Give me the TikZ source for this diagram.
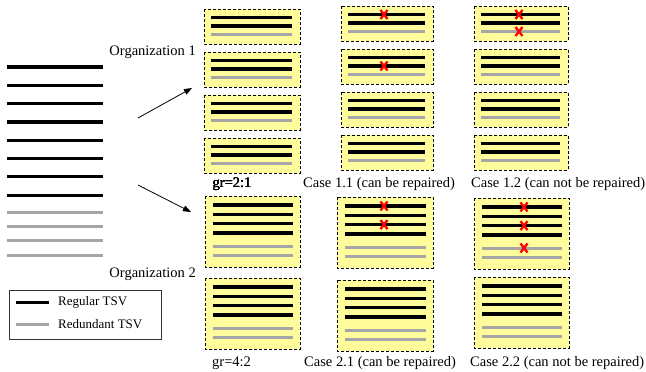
\documentclass[tikz,border=0pt]{standalone}
\usepackage{fontspec}
\setmainfont{Liberation Serif}
\usetikzlibrary{arrows.meta}
\definecolor{boxyellow}{RGB}{255,252,155}
\tikzset{
  regular/.style={line width=3.2pt,black},
  redundant/.style={line width=3pt,gray!70},
  tsvbox/.style={draw,fill=boxyellow,line width=0.8pt,dash pattern=on 3pt off 2pt},
  fault/.style={red,line width=2.3pt},
  lbl/.style={font=\fontsize{14.5}{17}\selectfont,inner sep=0pt},
  legendtext/.style={font=\fontsize{13}{15}\selectfont,inner sep=0pt,anchor=west},
}
% box with 2 regular + 1 redundant TSV
\newcommand{\smallstack}[3]{%
  \begin{scope}[shift={(#1,#2)}]
    \draw[tsvbox] (0,0) rectangle (#3,35);
    \draw[regular] (7,8.5) -- (#3-8,8.5);
    \draw[regular] (7,17) -- (#3-8,17);
    \draw[redundant] (7,25.5) -- (#3-8,25.5);
  \end{scope}}
% box with 4 regular + 2 redundant TSVs
\newcommand{\bigstack}[3]{%
  \begin{scope}[shift={(#1,#2)}]
    \draw[tsvbox] (0,0) rectangle (#3,71);
    \foreach \y in {9,18.3,27.6,36.9}
      \draw[regular] (8,\y) -- (#3-7,\y);
    \foreach \y in {50,59.3}
      \draw[redundant] (8,\y) -- (#3-7,\y);
  \end{scope}}
\newcommand{\faultmark}[2]{%
  \draw[fault] (#1,#2) +(-3.5,-4.5) -- +(3.5,4.5) +(-3.5,4.5) -- +(3.5,-4.5);}
\begin{document}
\begin{tikzpicture}[x=1pt,y=-1pt]
  \useasboundingbox (0,0) rectangle (646,372);
  % TSVs before grouping
  \foreach \i in {0,...,7}
    \draw[regular] (7,67+18.3*\i) -- (103,67+18.3*\i);
  \foreach \y in {212,226.3,240.6,255}
    \draw[redundant] (7,\y) -- (103,\y);
  % arrows
  \coordinate (tailone) at (138,118);
  \coordinate (headone) at (192,88);
  \coordinate (tailtwo) at (138,185);
  \coordinate (headtwo) at (191,212);
  \draw[line width=0.8pt,-{Triangle[length=8pt,width=6pt]}] (tailone) -- (headone);
  \draw[line width=0.8pt,-{Triangle[length=8pt,width=6pt]}] (tailtwo) -- (headtwo);
  \node[lbl,anchor=base east] (orgone) at (196,55) {Organization 1};
  \node[lbl,anchor=base east] (orgtwo) at (196,277) {Organization 2};
  % organization 1
  \foreach \y in {9,52,95,138}
    \smallstack{204}{\y}{96}
  \foreach \y in {6,49,92,135} {
    \smallstack{341}{\y}{92}
    \smallstack{474}{\y}{94}
  }
  \faultmark{384}{14.5}
  \faultmark{384}{66}
  \faultmark{519}{14.5}
  \faultmark{519}{31.5}
  \node[lbl,anchor=base west] (grone) at (212.5,187) {gr=2:1};
  \node[lbl,anchor=base west] (caseoneone) at (303,187) {Case 1.1 (can be repaired)};
  \node[lbl,anchor=base west] (caseonetwo) at (471,187) {Case 1.2 (can not be repaired)};
  % organization 2
  \bigstack{205}{196}{95}
  \bigstack{205}{278}{95}
  \bigstack{337}{197}{96}
  \bigstack{337}{280}{96}
  \bigstack{474}{198}{95}
  \bigstack{474}{277}{95}
  \faultmark{384}{206}
  \faultmark{384}{224.6}
  \faultmark{524}{207}
  \faultmark{524}{225.6}
  \faultmark{524}{248}
  \node[lbl,anchor=base west] (grtwo) at (212,366) {gr=4:2};
  \node[lbl,anchor=base west] (casetwoone) at (304,366) {Case 2.1 (can be repaired)};
  \node[lbl,anchor=base west] (casetwotwo) at (470,366) {Case 2.2 (can not be repaired)};
  % legend
  \draw[line width=0.8pt,black!80] (9,290) rectangle (161,339);
  \draw[regular] (16,302.7) -- (49,302.7);
  \draw[redundant] (16,324) -- (49,324);
  \node[legendtext] (regtext) at (58,302.7) {Regular TSV};
  \node[legendtext] (redtext) at (58,324) {Redundant TSV};
\end{tikzpicture}
\end{document}
